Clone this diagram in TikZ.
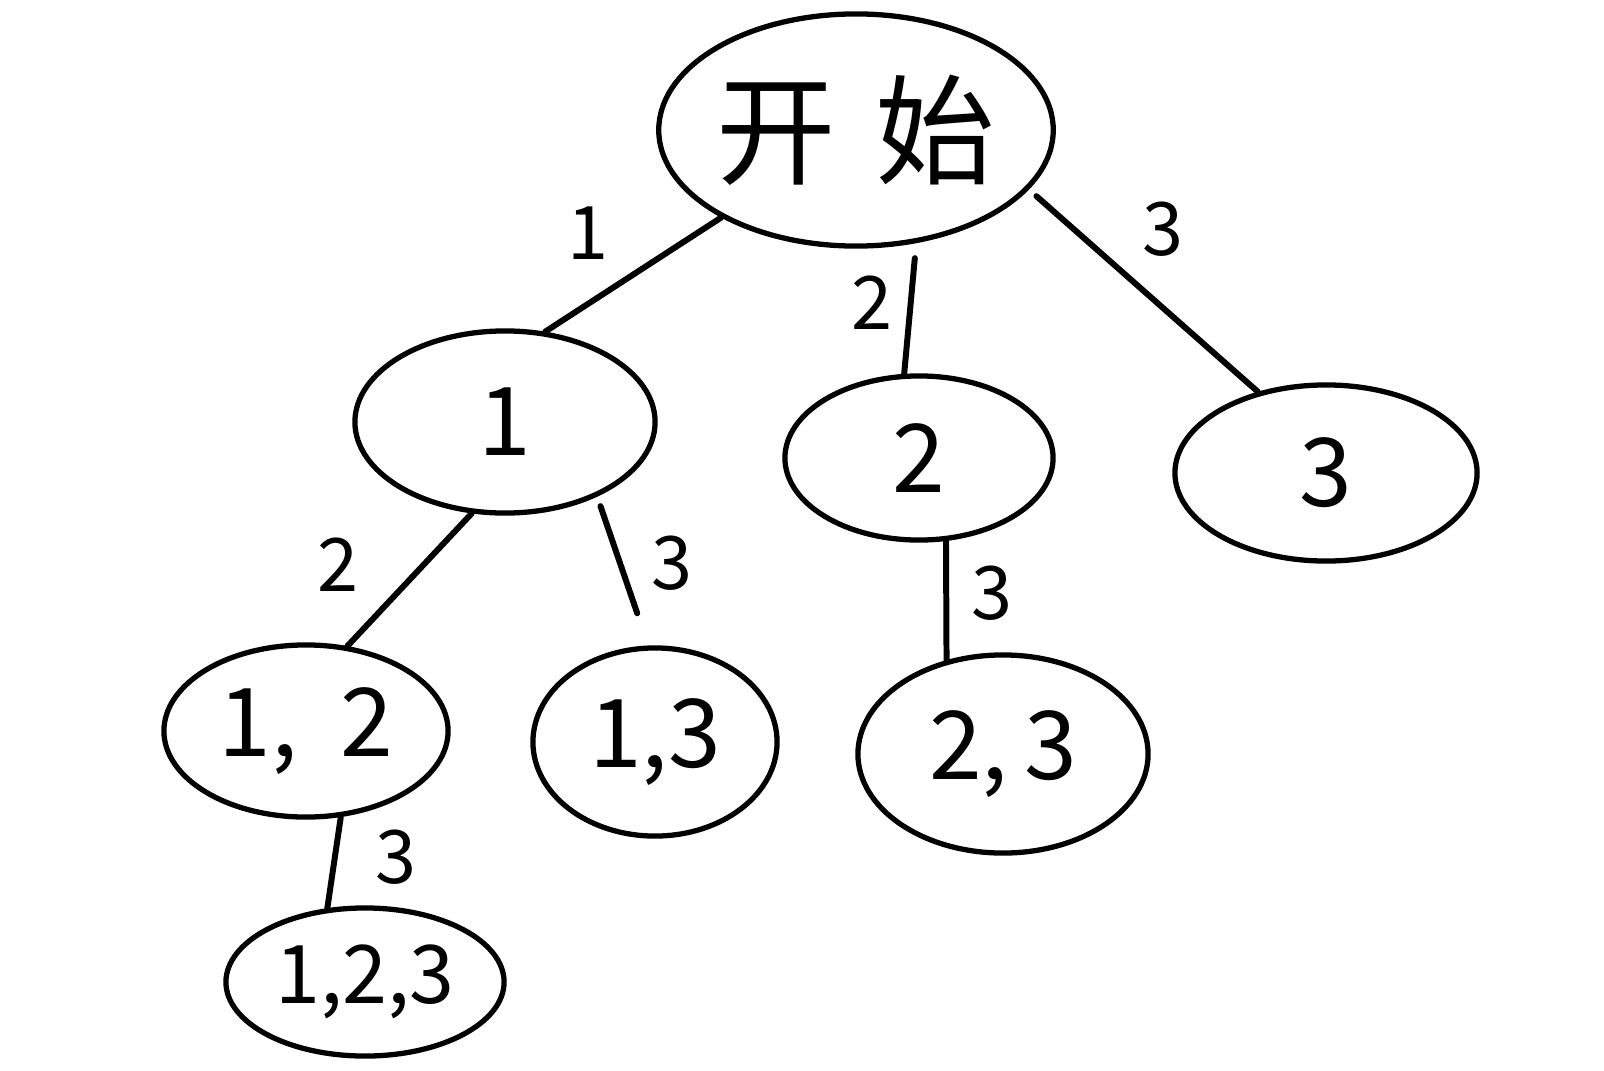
\documentclass[tikz,border=0pt]{standalone}
\usepackage{fontspec}
\setmainfont{Noto Sans CJK SC}
\usetikzlibrary{shapes.geometric}

\tikzset{
  setnode/.style={draw, ellipse, line width=1.5pt, inner sep=0pt,
    font=\fontsize{27}{29}\selectfont},
  edgelbl/.style={font=\fontsize{21}{23}\selectfont},
  branch/.style={line width=1.7pt, line cap=round},
}

\begin{document}
\begin{tikzpicture}[x=0.01cm, y=-0.01cm]
    \useasboundingbox (0,0) rectangle (1604,1070);

    % --- wezly drzewa ---
    \node[setnode, minimum width=3.74cm, minimum height=2.32cm,
          font=\fontsize{34}{36}\selectfont] (start) at (856,130) {开\,\,始};
    \node[setnode, minimum width=3.00cm, minimum height=1.82cm] (n1) at (505,422) {1};
    \node[setnode, minimum width=2.68cm, minimum height=1.64cm] (n2) at (919,458) {2};
    \node[setnode, minimum width=3.02cm, minimum height=1.76cm] (n3) at (1326,473) {3};
    \node[setnode, minimum width=2.84cm, minimum height=1.72cm] (n12) at (306,731) {1,\ \ 2};
    \node[setnode, minimum width=2.44cm, minimum height=1.88cm] (n13) at (655,742) {1,3};
    \node[setnode, minimum width=2.90cm, minimum height=1.98cm] (n23) at (1003,754) {2,\,3};
    \node[setnode, minimum width=2.78cm, minimum height=1.48cm,
          font=\fontsize{23}{25}\selectfont] (n123) at (365,982) {1,2,3};

    % --- krawedzie ---
    \draw[branch] (start.-147) -- (n1.66);
    \draw[branch, shorten <=0.15cm] (start.-62) -- (n2.100);
    \draw[branch, shorten <=0.1cm] (start.-19) -- (n3.130);
    \draw[branch] (n1.-110) -- (n12.64);
    \draw[branch, shorten <=0.1cm, shorten >=0.34cm] (n1.-39) -- (n13.94);
    \draw[branch] (n2.-72) -- (n23.121);
    \draw[branch] (n12.-68) -- (n123.117);

    % --- etykiety krawedzi ---
    \node[edgelbl] (l1) at (588,233) {1};
    \node[edgelbl] (l2) at (872,303) {2};
    \node[edgelbl] (l3) at (1163,229) {3};
    \node[edgelbl] (l12) at (338,565) {2};
    \node[edgelbl] (l13) at (672,563) {3};
    \node[edgelbl] (l23) at (992,593) {3};
    \node[edgelbl] (l123) at (396,857) {3};
\end{tikzpicture}
\end{document}
